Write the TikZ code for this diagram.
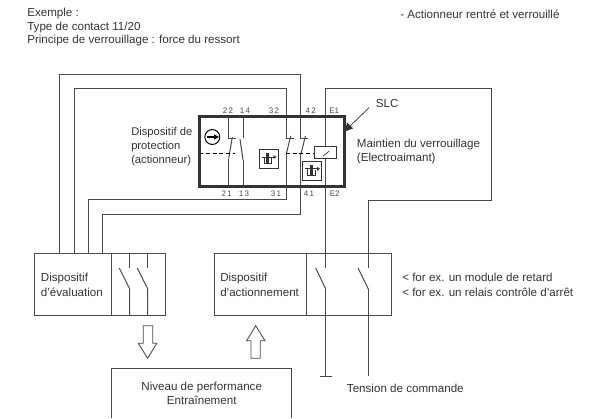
\documentclass[tikz,border=0pt]{standalone}
\usepackage{fontspec}
\setmainfont{Liberation Sans}
\definecolor{inkgray}{HTML}{333333}
\definecolor{wiregray}{HTML}{4A4A4A}
\tikzset{
  wire/.style={draw=wiregray, line width=0.75pt},
  block/.style={draw=wiregray, line width=0.75pt, inner sep=0pt},
  txt/.style={text=inkgray, inner sep=0pt, anchor=west, align=left, font=\fontsize{8.7}{10.8}\selectfont},
  tiny/.style={text=wiregray, inner sep=0pt, font=\fontsize{6}{7}\selectfont},
  hollow/.style={draw=wiregray, line width=0.65pt, fill=white}
}
\newcommand{\lockicon}[2]{
  \draw[draw=inkgray, line width=0.75pt, fill=white] (#1-9.5,#2-9.5) rectangle (#1+9.5,#2+9.5);
  \draw[inkgray, line width=0.55pt] (#1-4.5,#2-2) -- (#1-4.5,#2+4.5) -- (#1+3,#2+4.5) -- (#1+3,#2-1);
  \draw[inkgray, line width=2pt] (#1-0.7,#2-6) -- (#1-0.7,#2+5);
  \draw[inkgray, line width=0.7pt] (#1-7,#2-2) -- (#1-1,#2-2);
  \draw[inkgray, line width=0.7pt] (#1-1,#2-2) -- (#1+6.5,#2-2);
  \fill[inkgray] (#1+8,#2-2) -- (#1+5,#2-4) -- (#1+5,#2) -- cycle;
}
\begin{document}
\begin{tikzpicture}[x=0.75pt, y=-0.75pt]
  \useasboundingbox (0,0) rectangle (589,418);

  % blocks
  \node[inner sep=0pt, minimum width=108.4pt, minimum height=51.75pt] (safety) at (271.75,151.5) {};
  \node[block, minimum width=98.25pt, minimum height=46pt] (evaluation) at (100.2,284.35) {};
  \node[block, minimum width=132.75pt, minimum height=46pt] (actuation) at (303.2,284.35) {};
  \coordinate (evalsplit) at (111.7,284);
  \coordinate (actsplit) at (306,284);
  \draw[wire] (evaluation.north -| evalsplit) -- (evaluation.south -| evalsplit);
  \draw[wire] (actuation.north -| actsplit) -- (actuation.south -| actsplit);

  % terminals
  \coordinate (c22) at (228.7,138.5);
  \coordinate (c14) at (243,138);
  \coordinate (c32) at (286,138.5);
  \coordinate (c42) at (300.7,138.5);
  \coordinate (c21) at (228.7,158.5);
  \coordinate (c13) at (243,160);
  \coordinate (c31) at (286,155);
  \coordinate (c41) at (300.7,155);
  \coordinate (ev1) at (59.3,74);
  \coordinate (ev2) at (74,88.3);
  \coordinate (ev3) at (88,199);
  \coordinate (ev4) at (102.7,214);
  \coordinate (e1) at (325.7,88.3);
  \coordinate (ret) at (491.7,200);
  \coordinate (act2) at (368.3,200);
  \coordinate (ground) at (325.7,376);
  \coordinate (supply) at (368.3,376);
  \coordinate (sw1) at (129.7,289);
  \coordinate (sw2) at (147.7,289);
  \coordinate (sw3) at (325.7,289);
  \coordinate (sw4) at (368.3,289);

  % wires to the evaluation block
  \draw[wire] (c42) |- (ev1) -- (ev1 |- evaluation.north);
  \draw[wire] (c32) |- (ev2) -- (ev2 |- evaluation.north);
  \draw[wire] (c31) |- (ev3) -- (ev3 |- evaluation.north);
  \draw[wire] (c41) |- (ev4) -- (ev4 |- evaluation.north);

  % wires to the actuation block
  \draw[wire] (sw3 |- 0,268) -- (e1) -| (ret) -- (act2) -- (act2 |- 0,268);
  \draw[wire] (sw3) -- (ground);
  \draw[wire] (sw4) -- (supply);
  \draw[wire] (ground) ++(-6,0) -- ++(12,0);

  % inner contacts
  \draw[wire] (c22) -- (c22 |- safety.north);
  \draw[wire] (c14) -- (c14 |- safety.north);
  \draw[wire] (c21) -- (c21 |- safety.south);
  \draw[wire] (c13) -- (c13 |- safety.south);
  \draw[wire] (c21) -- ++(3.6,-21.5);
  \draw[wire] (c13) -- ++(-3,-21);
  \draw[wire] (c31) -- ++(4.7,-19);
  \draw[wire] (c41) -- ++(4.7,-19);
  \draw[wire] (c22) -- ++(7,0);
  \draw[wire] (c32) -- ++(8,0);
  \draw[wire] (c42) -- ++(7,0);
  \draw[black, line width=0.6pt, densely dashed] (safety.west |- 0,153.3) -- (235,153.3);
  \draw[black, line width=0.6pt, densely dashed] (286,153.3) -- (315,153.3);

  % coil and indicator
  \node[draw=inkgray, line width=0.75pt, fill=white, inner sep=0pt, minimum width=16.3pt, minimum height=8.3pt] (coil) at (325.8,152.5) {};
  \draw[inkgray, line width=0.55pt] (323.3,156) -- (329,151.3);
  \node[draw=black, line width=0.75pt, circle, inner sep=0pt, minimum size=11.2pt] (indicator) at (212.3,137) {};
  \draw[black, line width=1pt] (206.5,137) -- (215,137);
  \fill[black] (219,137) -- (214,134.3) -- (214,139.7) -- cycle;
  \lockicon{268.5}{159}
  \lockicon{312}{170.8}
  \draw[draw=inkgray, line width=2.1pt] (safety.north west) rectangle (safety.south east);

  % switches
  \draw[wire] (129.7,253.7) -- (129.7,268);
  \draw[wire] (147.7,253.7) -- (147.7,268);
  \draw[wire] (119.3,268) -- (sw1) -- (sw1 |- evaluation.south);
  \draw[wire] (137.3,268) -- (sw2) -- (sw2 |- evaluation.south);
  \draw[wire] (315.7,268) -- (sw3);
  \draw[wire] (358,268) -- (sw4);

  % hollow arrows
  \draw[hollow] (143.3,325.7) -- (152.7,325.7) -- (152.7,343.3) -- (156.7,343.3) -- (147.7,358.3) -- (138.3,343.3) -- (143.3,343.3) -- cycle;
  \draw[hollow] (251,358.3) -- (260.3,358.3) -- (260.3,340.7) -- (265,340.7) -- (255.7,325.7) -- (246.7,340.7) -- (251,340.7) -- cycle;

  % performance block, cut by the page
  \coordinate (perfnw) at (111.7,368.7);
  \coordinate (perfne) at (291.7,368.7);
  \draw[wire] (perfnw |- 0,418) -- (perfnw) -- (perfne) -- (perfne |- 0,418);
  \node[txt, anchor=center, align=center] (perf) at (201.7,393.5) {Niveau de performance\\Entraînement};

  % pointer to the safety block
  \node[txt] (slc) at (375.7,104) {SLC};
  \coordinate (slctail) at (369,107.7);
  \draw[inkgray, line width=0.55pt] (slctail) -- (348,128);
  \fill[inkgray] (345,131.5) -- (347,122.5) -- (353,128.5) -- cycle;

  % texts
  \node[txt, font=\fontsize{8.7}{10}\selectfont] (example) at (27,27) {Exemple :\\Type de contact 11/20\\Principe de verrouillage : force du ressort};
  \node[txt] (state) at (400,14) {- Actionneur rentré et verrouillé};
  \node[txt, font=\fontsize{8.4}{10.4}\selectfont] (device) at (131,146.5) {Dispositif de\\protection\\(actionneur)};
  \node[txt] (hold) at (356.7,151.5) {Maintien du verrouillage\\(Electroaimant)};
  \node[txt] (evaltxt) at (40.7,285) {Dispositif\\d'évaluation};
  \node[txt] (acttxt) at (220,285) {Dispositif\\d'actionnement};
  \node[txt] (notes) at (402,285) {< for ex. un module de retard\\< for ex. un relais contrôle d'arrêt};
  \node[txt] (voltage) at (346.7,388.3) {Tension de commande};

  % terminal numbers
  \node[tiny] (n22) at (228,110.7) {2\,2};
  \node[tiny] (n14) at (245,110.7) {1\,4};
  \node[tiny] (n32) at (274,110.7) {3\,2};
  \node[tiny] (n42) at (310.7,110.7) {4\,2};
  \node[tiny] (ne1) at (334.3,110.7) {E1};
  \node[tiny] (n21) at (226.7,193.3) {2\,1};
  \node[tiny] (n13) at (244,193.3) {1\,3};
  \node[tiny] (n31) at (276,193.3) {3\,1};
  \node[tiny] (n41) at (309,193.3) {4\,1};
  \node[tiny] (ne2) at (334.7,193.3) {E2};
\end{tikzpicture}
\end{document}
